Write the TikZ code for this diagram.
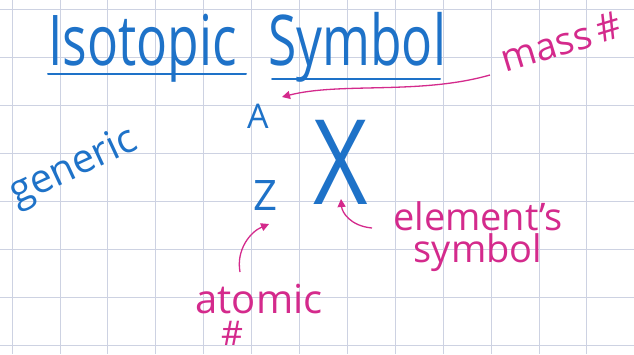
\documentclass[tikz,border=0pt]{standalone}
\usepackage{fontspec}
\setmainfont{Open Sans}
\usetikzlibrary{arrows.meta}
\definecolor{ink}{HTML}{1E72C8}
\definecolor{pinkink}{HTML}{D42A8C}
\definecolor{gridc}{HTML}{CDD2E2}
\tikzset{
  bluetext/.style={text=ink, inner sep=0pt},
  pinktext/.style={text=pinkink, inner sep=0pt},
  pinkarrow/.style={draw=pinkink, line width=1.3pt, -{Triangle[length=8pt,width=8pt]}},
  uline/.style={draw=ink, line width=2pt, line cap=round}
}
\begin{document}
\begin{tikzpicture}[x=1pt,y=-1pt]
\useasboundingbox (0,0) rectangle (634,354);
\fill[white] (0,0) rectangle (634,354);
% grid
\foreach \i in {0,...,13} {\draw[gridc, line width=0.8pt] ({12+47.9*\i},0) -- ({12+47.9*\i},354);}
\foreach \j in {0,...,7} {\draw[gridc, line width=0.8pt] (0,{9+48*\j}) -- (634,{9+48*\j});}
% title
\node[bluetext, font=\fontsize{56}{60}\selectfont, yscale=1.25, xscale=0.92, anchor=base west] (iso) at (48,65) {Isotopic};
\node[bluetext, font=\fontsize{56}{60}\selectfont, yscale=1.25, xscale=0.92, anchor=base west] (sym) at (268,65) {Symbol};
\coordinate (u1a) at (48,74); \coordinate (u1b) at (246,74);
\coordinate (u2a) at (272,79); \coordinate (u2b) at (440,79);
\draw[uline] (u1a) -- (u1b);
\draw[uline] (u2a) -- (u2b);
% symbol parts
\node[bluetext, font=\fontsize{34}{36}\selectfont] (A) at (258,116) {A};
\node[bluetext, font=\fontsize{42}{44}\selectfont] (Z) at (265,196) {Z};
\node[bluetext, font=\fontsize{118}{120}\selectfont, xscale=0.8] (X) at (341,162) {X};
% generic
\node[bluetext, font=\fontsize{40}{44}\selectfont, rotate=25] (gen) at (74,168) {generic};
% labels
\node[pinktext, font=\fontsize{38}{40}\selectfont, rotate=17] (mass) at (561,42) {mass\,\#};
\node[pinktext, font=\fontsize{38}{32}\selectfont, align=center] (elem) at (478,237) {element's\\symbol};
\node[pinktext, font=\fontsize{40}{42}\selectfont] (atomic) at (259,299) {atomic};
\node[pinktext, font=\fontsize{34}{36}\selectfont] (hash) at (232,333) {\#};
% arrows
\coordinate (m0) at (490,75);
\coordinate (m1) at (282,97);
\draw[pinkarrow] (m0) .. controls (420,95) and (340,82) .. (m1);
\coordinate (e0) at (372,228);
\draw[pinkarrow] (e0) .. controls (350,226) and (342,212) .. (341,199);
\coordinate (a0) at (240,272);
\draw[pinkarrow] (a0) .. controls (236,250) and (250,232) .. (269,224);
\end{tikzpicture}
\end{document}
